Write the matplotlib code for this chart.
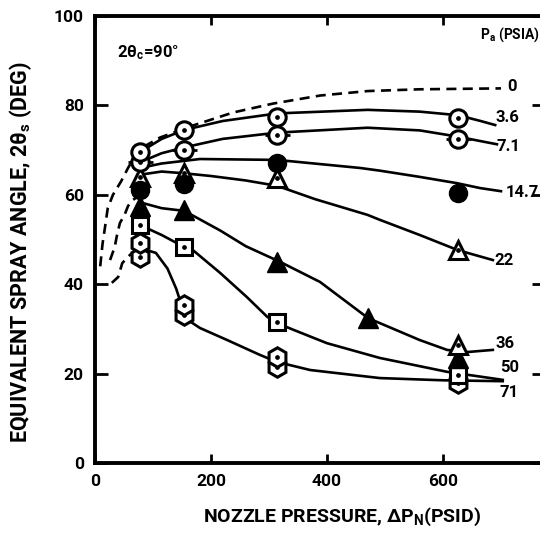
import matplotlib
matplotlib.use('Agg')
import matplotlib.pyplot as plt

pa3_6_x = [78, 154, 314, 626]
pa3_6_y = [69.6, 74.5, 77.4, 77.2]
pa7_1_x = [78, 154, 314, 626]
pa7_1_y = [67.3, 70.0, 73.4, 72.5]
pa14_7_x = [78, 154, 314, 626]
pa14_7_y = [61.0, 62.5, 67.1, 60.4]
pa22_x = [78, 154, 314, 626]
pa22_y = [64.0, 64.9, 63.8, 47.7]
pa36_x = [78, 154, 314, 471, 626]
pa36_y = [57.5, 56.6, 45.0, 32.4, 23.5]
pa36b_x = [626]
pa36b_y = [26.4]
pa50_x = [78, 154, 314, 626]
pa50_y = [53.2, 48.3, 31.5, 19.7]
pa71_x = [78, 154, 314, 626]
pa71_y = [46.1, 33.1, 21.5, 17.9]
pa71b_x = [78, 154, 314]
pa71b_y = [49.2, 35.3, 23.7]

# faired curves
c0_x = [9, 13, 17, 22, 31, 45, 57, 65, 78, 112, 169, 238, 307, 388, 470, 560, 700]
c0_y = [44, 49, 52.5, 57, 60, 63, 66, 67.8, 70.3, 72.8, 75.5, 78.4, 80.4, 82.2, 83.2, 83.6, 83.8]
c3_6_x = [78, 115, 154, 220, 314, 470, 560, 626, 665, 690]
c3_6_y = [69.6, 72.5, 74.5, 76.5, 78.2, 79.0, 78.6, 77.8, 76.5, 75.6]
c7_1_x = [78, 115, 154, 220, 314, 470, 560, 626, 665, 693]
c7_1_y = [67.3, 69.3, 70.6, 72.5, 73.9, 75.0, 74.4, 73.0, 72.0, 71.3]
c14_7_x = [78, 115, 181, 314, 457, 491, 560, 624, 664, 700]
c14_7_y = [66.0, 67.0, 68.0, 67.8, 66.0, 65.4, 64.0, 62.6, 61.5, 60.8]
c22_x = [78, 115, 154, 200, 260, 314, 380, 470, 491, 560, 626, 686]
c22_y = [64.5, 65.2, 64.8, 64.2, 63.2, 62.0, 59.0, 55.5, 54.4, 51.0, 47.6, 45.4]
c36_x = [78, 115, 154, 216, 260, 319, 388, 471, 491, 560, 607, 640, 686]
c36_y = [58.3, 57.0, 56.4, 52.0, 48.5, 45.0, 40.5, 32.4, 31.3, 27.5, 25.3, 24.8, 25.3]
c50_x = [78, 115, 141, 155, 169, 216, 262, 297, 314, 342, 400, 491, 607, 703]
c50_y = [53.2, 51.0, 49.2, 48.3, 47.6, 42.5, 37.1, 32.7, 31.3, 29.8, 26.8, 23.5, 20.4, 18.6]
c71_x = [80, 105, 125, 140, 150, 160, 181, 228, 284, 314, 371, 491, 600, 703]
c71_y = [48.0, 47.0, 43.5, 39.0, 35.0, 32.0, 30.2, 27.5, 24.2, 22.6, 20.8, 19.0, 18.5, 18.3]
# dashed extrapolations toward zero pressure
e36_x = [26, 34, 38, 43, 51, 57, 65, 78]
e36_y = [45.4, 48.3, 51.0, 53.7, 55.5, 57.5, 58.8, 60.0]
e71_x = [29, 40, 47, 56, 64, 78]
e71_y = [40.3, 41.6, 44.7, 46.0, 47.0, 48.0]

curve_labels = ['0', '3.6', '7.1', '14.7', '22', '36', '50', '71']
label_x = [711, 690, 693, 708, 688, 690, 698, 698]
label_y = [84.3, 77.4, 70.9, 60.6, 45.4, 26.8, 21.3, 15.7]

plt.rcParams['font.family'] = ['Roboto', 'DejaVu Sans']
plt.rcParams['font.weight'] = 'bold'
plt.rcParams['axes.labelweight'] = 'bold'
plt.rcParams['mathtext.fontset'] = 'custom'
plt.rcParams['mathtext.rm'] = 'Roboto:bold'
plt.rcParams['mathtext.it'] = 'Roboto:bold'
plt.rcParams['mathtext.bf'] = 'Roboto:bold'
plt.rcParams['mathtext.default'] = 'bf'

fig = plt.figure(figsize=(5.4, 5.36), dpi=100)
ax = fig.add_axes([0.1759, 0.1362, 0.8324, 0.834])
ax.set_xlim(0, 775)
ax.set_ylim(0, 100)

lw = 1.9
dash = (3.8, 2.4)
ax.plot(c0_x, c0_y, color='k', lw=lw, dashes=dash)
ax.plot(e36_x, e36_y, color='k', lw=lw, dashes=dash)
ax.plot(e71_x, e71_y, color='k', lw=lw, dashes=dash)
for cx, cy in [(c3_6_x, c3_6_y), (c7_1_x, c7_1_y), (c14_7_x, c14_7_y),
               (c22_x, c22_y), (c36_x, c36_y), (c50_x, c50_y), (c71_x, c71_y)]:
    ax.plot(cx, cy, color='k', lw=lw)


def dotted(x, y, marker, ms):
    ax.plot(x, y, ls='none', marker=marker, ms=ms, mfc='white', mec='k', mew=2.2)
    ax.plot(x, y, ls='none', marker='o', ms=2.4, color='k')


# 7.1 circles carry small side flags
ax.plot(pa7_1_x, pa7_1_y, ls='none', marker='_', ms=18, mew=2, color='k')
dotted(pa71_x, pa71_y, 'h', 14)
dotted(pa71b_x, pa71b_y, 'h', 14)
dotted(pa50_x, pa50_y, 's', 12)
ax.plot(pa36_x, pa36_y, ls='none', marker='^', ms=14, color='k')
dotted(pa36b_x, pa36b_y, '^', 13)
dotted(pa22_x, pa22_y, '^', 13)
ax.plot(pa14_7_x, pa14_7_y, ls='none', marker='o', ms=13, color='k')
dotted(pa7_1_x, pa7_1_y, 'o', 12.5)
dotted(pa3_6_x, pa3_6_y, 'o', 12.5)

for t, lx, ly in zip(curve_labels, label_x, label_y):
    ax.text(lx, ly, t, ha='left', va='center', fontsize=12)

ax.text(664, 95.7, 'P$_{a}$ (PSIA)', ha='left', va='center', fontsize=10)
ax.text(38, 91.7, '2θ$_{c}$=90°', ha='left', va='center', fontsize=12)

for s in ['left', 'bottom', 'top', 'right']:
    ax.spines[s].set_linewidth(2.8)
ax.set_xticks([0, 200, 400, 600])
ax.set_yticks([0, 20, 40, 60, 80, 100])
ax.tick_params(direction='in', length=6.5, width=2, labelsize=12.5, pad=8,
               top=True, right=True)
ax.tick_params(axis='y', right=True, length=9)
ax.set_xlabel('NOZZLE PRESSURE, ΔP$_{N}$(PSID)', fontsize=14)
ax.set_ylabel('EQUIVALENT SPRAY ANGLE, 2θ$_{s}$ (DEG)', fontsize=15.5)
ax.xaxis.set_label_coords(0.55, -0.095)
ax.yaxis.set_label_coords(-0.135, 0.472)

fig.savefig('out.png', dpi=100)
